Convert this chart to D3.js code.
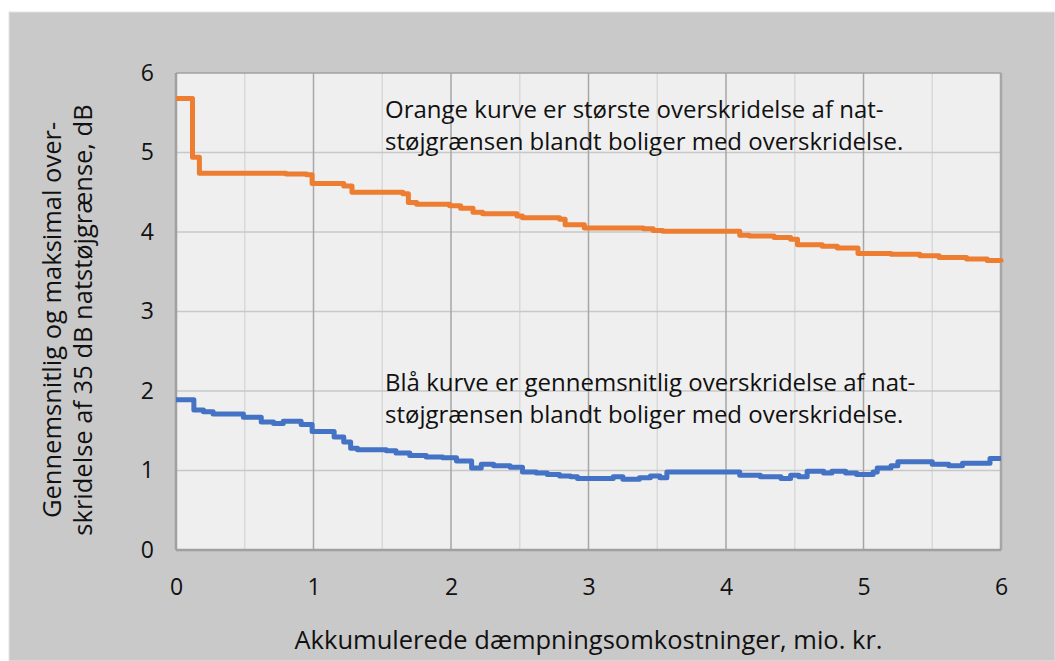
<!DOCTYPE html>
<html>
<head>
<meta charset="utf-8">
<script src="https://cdn.jsdelivr.net/npm/d3@7"></script>
<style>
  body { margin: 0; background: #fff; }
  text { font-family: "Open Sans", "Noto Sans", sans-serif; fill: #111; }
</style>
</head>
<body>
<script>
// tick values on both axes
var xTicks = [0, 1, 2, 3, 4, 5, 6];
var yTicks = [0, 1, 2, 3, 4, 5, 6];
var xMinor = [0.5, 1.5, 2.5, 3.5, 4.5, 5.5];

// orange: largest exceedance, [mio. kr., dB]
var orangeSteps = [
  [0, 5.68], [0.12, 4.94], [0.17, 4.74], [0.66, 4.74], [0.8, 4.73], [0.95, 4.72],
  [0.99, 4.61], [1.22, 4.58], [1.28, 4.50], [1.50, 4.50], [1.65, 4.48], [1.69, 4.37],
  [1.75, 4.35], [1.99, 4.33], [2.07, 4.30], [2.16, 4.25], [2.23, 4.23], [2.48, 4.20],
  [2.52, 4.18], [2.79, 4.16], [2.83, 4.09], [2.97, 4.05], [3.40, 4.04], [3.47, 4.02],
  [3.54, 4.01], [4.08, 4.01], [4.10, 3.96], [4.17, 3.95], [4.35, 3.93], [4.47, 3.91],
  [4.52, 3.84], [4.70, 3.82], [4.81, 3.80], [4.96, 3.73], [5.20, 3.72], [5.41, 3.70],
  [5.55, 3.68], [5.75, 3.66], [5.90, 3.64], [6.0, 3.62]
];

// blue: average exceedance, [mio. kr., dB]
var blueSteps = [
  [0, 1.89], [0.13, 1.76], [0.20, 1.74], [0.27, 1.71], [0.49, 1.67], [0.62, 1.61],
  [0.71, 1.59], [0.78, 1.62], [0.91, 1.58], [0.99, 1.49], [1.15, 1.42], [1.22, 1.36],
  [1.27, 1.28], [1.32, 1.26], [1.53, 1.25], [1.60, 1.22], [1.70, 1.19], [1.82, 1.17],
  [1.94, 1.16], [2.04, 1.12], [2.15, 1.03], [2.22, 1.08], [2.31, 1.06], [2.43, 1.04],
  [2.52, 0.98], [2.62, 0.97], [2.70, 0.95], [2.79, 0.93], [2.87, 0.92], [2.92, 0.90],
  [3.18, 0.92], [3.25, 0.89], [3.37, 0.91], [3.45, 0.93], [3.52, 0.91], [3.57, 0.98],
  [4.08, 0.98], [4.10, 0.94], [4.25, 0.92], [4.40, 0.90], [4.47, 0.94], [4.53, 0.92],
  [4.59, 0.99], [4.71, 0.97], [4.77, 0.99], [4.87, 0.97], [4.95, 0.95], [5.07, 0.98],
  [5.10, 1.03], [5.20, 1.06], [5.25, 1.11], [5.34, 1.11], [5.50, 1.08], [5.62, 1.06],
  [5.72, 1.09], [5.92, 1.15], [6.0, 1.15]
];

var orangeNote = ["Orange kurve er største overskridelse af nat-", "støjgrænsen blandt boliger med overskridelse."];
var blueNote = ["Blå kurve er gennemsnitlig overskridelse af nat-", "støjgrænsen blandt boliger med overskridelse."];
var yTitle = ["Gennemsnitlig og maksimal over-", "skridelse af 35 dB natstøjgrænse, dB"];
var xTitle = "Akkumulerede dæmpningsomkostninger, mio. kr.";

var W = 1055, H = 661;
var margin = {top: 73, right: 54, bottom: 111, left: 176},
    width = W - margin.left - margin.right,
    height = H - margin.top - margin.bottom;

var svg = d3.select("body").append("svg")
    .attr("width", W)
    .attr("height", H);

// grey panel behind the chart
svg.append("rect")
    .attr("x", 9).attr("y", 12)
    .attr("width", W - 9).attr("height", H - 12)
    .attr("fill", "#c9c9c9")
    .attr("stroke", "#e4e4e4");

var g = svg.append("g")
    .attr("transform", "translate(" + margin.left + "," + margin.top + ")");

var x = d3.scaleLinear().domain([0, 6]).range([0, width]);
var y = d3.scaleLinear().domain([0, 6]).range([height, 0]);

// plot area
g.append("rect")
    .attr("width", width).attr("height", height)
    .attr("fill", "#efefef");

// minor vertical grid
g.selectAll("line.minor").data(xMinor).enter().append("line")
    .attr("class", "minor")
    .attr("x1", d => x(d)).attr("x2", d => x(d))
    .attr("y1", 0).attr("y2", height)
    .attr("stroke", "#d9d9d9").attr("stroke-width", 1.5);

// horizontal grid
g.selectAll("line.hgrid").data(yTicks.slice(1)).enter().append("line")
    .attr("class", "hgrid")
    .attr("x1", 0).attr("x2", width)
    .attr("y1", d => y(d)).attr("y2", d => y(d))
    .attr("stroke", d => d == 6 ? "#a0a0a0" : "#c8c8c8").attr("stroke-width", 1.5);

// major vertical grid
g.selectAll("line.major").data(xTicks.slice(1)).enter().append("line")
    .attr("class", "major")
    .attr("x1", d => x(d)).attr("x2", d => x(d))
    .attr("y1", 0).attr("y2", height)
    .attr("stroke", "#a6a6a6").attr("stroke-width", d => d == 6 ? 2.5 : 1.5);

// axes lines
g.append("line").attr("x1", 0).attr("x2", 0).attr("y1", 0).attr("y2", height)
    .attr("stroke", "#a0a0a0").attr("stroke-width", 2.5);
g.append("line").attr("x1", 0).attr("x2", width).attr("y1", height).attr("y2", height)
    .attr("stroke", "#a0a0a0").attr("stroke-width", 2.5);

// tick labels
var xAxis = g.append("g")
    .attr("transform", "translate(0," + height + ")")
    .call(d3.axisBottom(x).tickValues(xTicks).tickSize(0).tickPadding(29).tickFormat(d3.format("d")));
var yAxis = g.append("g")
    .call(d3.axisLeft(y).tickValues(yTicks).tickSize(0).tickPadding(22).tickFormat(d3.format("d")));
[xAxis, yAxis].forEach(function(a) {
  a.select(".domain").remove();
  a.selectAll("text")
    .style("font-size", "23px")
    .style("font-family", "'Open Sans', 'Noto Sans', sans-serif")
    .attr("fill", "#111");
});

// curves
var line = d3.line()
    .x(d => x(d[0]))
    .y(d => y(d[1]))
    .curve(d3.curveStepAfter);

g.append("path").datum(orangeSteps)
    .attr("d", line)
    .attr("fill", "none")
    .attr("stroke", "#ed7d31")
    .attr("stroke-width", 5)
    .attr("stroke-linejoin", "round");

g.append("path").datum(blueSteps)
    .attr("d", line)
    .attr("fill", "none")
    .attr("stroke", "#4472c4")
    .attr("stroke-width", 5)
    .attr("stroke-linejoin", "round");

// notes inside the plot
function note(lines, x0, y0) {
  g.selectAll(null).data(lines).enter().append("text")
    .attr("x", x0)
    .attr("y", (d, i) => y0 + i * 32)
    .style("font-size", "24px")
    .text(d => d);
}
note(orangeNote, x(1.52), y(5.43));
note(blueNote, x(1.52), y(2.0));

// axis titles
svg.append("text")
    .attr("x", margin.left + x(3))
    .attr("y", 649)
    .attr("text-anchor", "middle")
    .style("font-size", "25.5px")
    .text(xTitle);

svg.selectAll("text.ytitle").data(yTitle).enter().append("text")
    .attr("class", "ytitle")
    .attr("transform", (d, i) => "translate(" + (61 + i * 31) + ",320) rotate(-90)")
    .attr("text-anchor", "middle")
    .style("font-size", "25.5px")
    .text(d => d);
</script>
</body>
</html>
